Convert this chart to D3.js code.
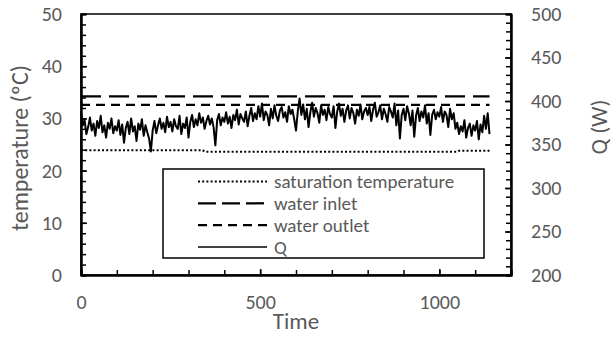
<!DOCTYPE html>
<html>
<head>
<meta charset="utf-8">
<script src="https://cdn.jsdelivr.net/npm/d3@7"></script>
<style>
  body { margin: 0; background: #fff; }
  text { font-family: Carlito, Lato, sans-serif; fill: #595959; }
</style>
</head>
<body>
<div id="chart"></div>
<script>
// time axis (s)
const qStart = 0;
const qStep = 5;
// heat flow Q (W), one value every 5 s
const qValues = [
  386, 372, 378, 362, 370, 381, 366, 374, 360, 377, 369, 383, 364, 372, 358, 375, 368, 380, 363, 371,
  366, 378, 361, 373, 352, 369, 376, 362, 380, 365, 371, 354, 374, 367, 379, 360, 372, 364, 357, 342,
  366, 377, 363, 372, 380, 368, 375, 364, 382, 370, 376, 365, 379, 371, 368, 383, 362, 374, 369, 381,
  358, 376, 384, 370, 379, 372, 386, 375, 381, 368, 377, 383, 373, 380, 370, 349, 378, 385, 372, 381,
  376, 387, 374, 382, 369, 384, 378, 390, 373, 385, 380, 376, 388, 371, 383, 392, 377, 386, 379, 394,
  382, 397, 378, 388, 384, 372, 391, 380, 395, 383, 377, 389, 393, 381, 387, 376, 394, 385, 390, 379,
  366, 388, 403, 384, 396, 379, 391, 370, 387, 398, 382, 392, 386, 375, 395, 384, 390, 378, 393, 385,
  381, 394, 369, 388, 397, 383, 391, 376, 389, 395, 380, 392, 386, 374, 390, 383, 396, 379, 388, 392,
  384, 393, 377, 390, 398, 382, 387, 395, 379, 391, 385, 376, 393, 388, 381, 397, 372, 389, 357, 384,
  391, 378, 394, 386, 372, 389, 359, 383, 392, 377, 388, 381, 395, 374, 386, 361, 384, 390, 379, 387,
  382, 393, 376, 388, 384, 370, 391, 379, 386, 368, 375, 362, 371, 365, 378, 358, 369, 374, 360, 372,
  366, 377, 356, 373, 364, 383, 368, 386, 362
];
// temperatures (ºC)
const satTime = [0, 340, 345, 1050, 1055, 1140];
const satTemp = [23.9, 23.9, 23.6, 23.6, 23.8, 23.8];
const inletTime = [0, 1140];
const inletTemp = [34.2, 34.2];
const outletTime = [0, 1140];
const outletTemp = [32.6, 32.6];

const timeTicks = [0, 500, 1000];
const tempTicks = [0, 10, 20, 30, 40, 50];
const qTicks = [200, 250, 300, 350, 400, 450, 500];
const legendLabels = ['saturation temperature', 'water inlet', 'water outlet', 'Q'];

const W = 615, H = 337;
const margin = { top: 14, right: 104, bottom: 62, left: 81 };
const width = W - margin.left - margin.right;
const height = H - margin.top - margin.bottom;

const svg = d3.select('#chart').append('svg')
  .attr('width', W)
  .attr('height', H);

const g = svg.append('g')
  .attr('transform', `translate(${margin.left},${margin.top})`);

const x = d3.scaleLinear().domain([0, 1200]).range([0, width]);
const yT = d3.scaleLinear().domain([0, 50]).range([height, 0]);
const yQ = d3.scaleLinear().domain([200, 500]).range([height, 0]);

// plot frame
g.append('rect')
  .attr('width', width)
  .attr('height', height)
  .attr('fill', 'none')
  .attr('stroke', '#000')
  .attr('stroke-width', 1.5);

function styleAxis(sel) {
  sel.select('.domain').attr('stroke', '#000').attr('stroke-width', 2);
  sel.selectAll('.tick line').attr('stroke', '#000').attr('stroke-width', 1.5);
  sel.selectAll('text').attr('fill', '#595959').style('font-size', '20px');
}

// minor ticks
g.append('g')
  .call(d3.axisLeft(yT).tickValues(d3.range(0, 51, 2)).tickSize(-5).tickFormat(''))
  .call(styleAxis);
g.append('g')
  .attr('transform', `translate(${width},0)`)
  .call(d3.axisRight(yQ).tickValues(d3.range(200, 501, 10)).tickSize(-5).tickFormat(''))
  .call(styleAxis);
g.append('g')
  .attr('transform', `translate(0,${height})`)
  .call(d3.axisBottom(x).tickValues(d3.range(0, 1201, 100)).tickSize(-5).tickFormat(''))
  .call(styleAxis);

// major ticks with labels
g.append('g')
  .call(d3.axisLeft(yT).tickValues(tempTicks).tickSize(-6).tickSizeOuter(0).tickPadding(19))
  .call(styleAxis);
g.append('g')
  .attr('transform', `translate(${width},0)`)
  .call(d3.axisRight(yQ).tickValues(qTicks).tickSize(-6).tickSizeOuter(0).tickPadding(20))
  .call(styleAxis);
const xAxis = g.append('g')
  .attr('transform', `translate(0,${height})`)
  .call(d3.axisBottom(x).tickValues(timeTicks).tickFormat(d3.format('d')).tickSize(-6).tickSizeOuter(0))
  .call(styleAxis);
xAxis.selectAll('text').attr('dy', null).attr('y', 34);

// axis titles
svg.append('text')
  .attr('transform', `translate(28,${148}) rotate(-90)`)
  .attr('text-anchor', 'middle')
  .style('font-size', '24px')
  .text('temperature (ºC)');
svg.append('text')
  .attr('transform', `translate(607,${127}) rotate(-90)`)
  .attr('text-anchor', 'middle')
  .style('font-size', '23px')
  .text('Q (W)');
svg.append('text')
  .attr('x', margin.left + width / 2)
  .attr('y', 329)
  .attr('text-anchor', 'middle')
  .style('font-size', '23px')
  .text('Time');

// series
const tempLine = d3.line().x(d => x(d[0])).y(d => yT(d[1]));
const qLine = d3.line().x((d, i) => x(qStart + i * qStep)).y(d => yQ(d));

const styles = [
  { dash: '2,2.2', width: 2 },
  { dash: '20,8', width: 2.25 },
  { dash: '9,6', width: 2.25 },
  { dash: null, width: 2 }
];

g.append('path')
  .datum(d3.zip(satTime, satTemp))
  .attr('d', tempLine)
  .attr('fill', 'none').attr('stroke', '#000')
  .attr('stroke-width', styles[0].width).attr('stroke-dasharray', styles[0].dash);
g.append('path')
  .datum(d3.zip(inletTime, inletTemp))
  .attr('d', tempLine)
  .attr('fill', 'none').attr('stroke', '#000')
  .attr('stroke-width', styles[1].width).attr('stroke-dasharray', styles[1].dash);
g.append('path')
  .datum(d3.zip(outletTime, outletTemp))
  .attr('d', tempLine)
  .attr('fill', 'none').attr('stroke', '#000')
  .attr('stroke-width', styles[2].width).attr('stroke-dasharray', styles[2].dash);
g.append('path')
  .datum(qValues)
  .attr('d', qLine)
  .attr('fill', 'none').attr('stroke', '#000')
  .attr('stroke-width', styles[3].width).attr('stroke-linejoin', 'round');

// legend
const legend = svg.append('g').attr('transform', 'translate(163,169)');
legend.append('rect')
  .attr('width', 321)
  .attr('height', 89)
  .attr('fill', '#fff')
  .attr('stroke', '#000')
  .attr('stroke-width', 1.5);

const rows = legend.selectAll('.row')
  .data(legendLabels)
  .enter()
  .append('g')
  .attr('class', 'row')
  .attr('transform', (d, i) => `translate(0,${12.5 + i * 21.8})`);

rows.append('line')
  .attr('x1', 35).attr('x2', 104)
  .attr('stroke', '#000')
  .attr('stroke-width', (d, i) => i === 3 ? 1.5 : styles[i].width)
  .attr('stroke-dasharray', (d, i) => i === 1 ? '18,6' : styles[i].dash);

rows.append('text')
  .attr('x', 111)
  .attr('dy', '0.35em')
  .style('font-size', '19px')
  .text(d => d);
</script>
</body>
</html>
